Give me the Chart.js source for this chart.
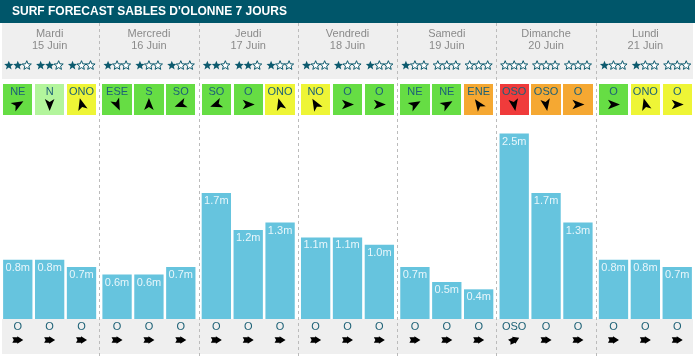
<!DOCTYPE html>
<html>
<head>
<meta charset="utf-8">
<script src="https://cdn.jsdelivr.net/npm/chart.js@4.4.1/dist/chart.umd.min.js"></script>
<style>
html,body{margin:0;padding:0;background:#fff;}
canvas{display:block;}
</style>
</head>
<body>
<canvas id="c" width="695" height="356"></canvas>
<script>
// ---- data ----
const title = "SURF FORECAST SABLES D'OLONNE 7 JOURS";
const days = ['Mardi','Mercredi','Jeudi','Vendredi','Samedi','Dimanche','Lundi'];
const dates = ['15 Juin','16 Juin','17 Juin','18 Juin','19 Juin','20 Juin','21 Juin'];

const waveMatin = [0.8, 0.6, 1.7, 1.1, 0.7, 2.5, 0.8];
const waveMidi  = [0.8, 0.6, 1.2, 1.1, 0.5, 1.7, 0.8];
const waveSoir  = [0.7, 0.7, 1.3, 1.0, 0.4, 1.3, 0.7];

const starsMatin = [2, 1, 2, 1, 1, 0, 1];
const starsMidi  = [2, 1, 2, 1, 0, 0, 1];
const starsSoir  = [1, 1, 1, 1, 0, 0, 0];

const windDirMatin = ['NE','ESE','SO','NO','NE','OSO','O'];
const windDirMidi  = ['N','S','O','O','NE','OSO','ONO'];
const windDirSoir  = ['ONO','SO','ONO','O','ENE','O','O'];

// wind strength level 1..5
const windLevelMatin = [2, 2, 2, 3, 2, 5, 2];
const windLevelMidi  = [1, 2, 2, 2, 2, 4, 3];
const windLevelSoir  = [3, 2, 3, 2, 4, 4, 3];

// arrow heading in degrees (0 = pointing right, 90 = down)
const windAngleMatin = [-30, 65, 160, -120, -30, 80, 0];
const windAngleMidi  = [90, -90, 0, 0, -30, 80, -105];
const windAngleSoir  = [-105, 160, -105, 0, -125, 0, 0];

const swellDirMatin = ['O','O','O','O','O','OSO','O'];
const swellDirMidi  = ['O','O','O','O','O','O','O'];
const swellDirSoir  = ['O','O','O','O','O','O','O'];
const swellAngleMatin = [0, 0, 0, 0, 0, -25, 0];
const swellAngleMidi  = [0, 0, 0, 0, 0, 0, 0];
const swellAngleSoir  = [0, 0, 0, 0, 0, 0, 0];

// ---- styles ----
const levelColors = {1:'#b3f59c', 2:'#66dd44', 3:'#eef536', 4:'#f5a832', 5:'#f03b3b'};
const FONT = '"Liberation Sans", Arial, Helvetica, sans-serif';
const TEAL = '#0d5a6e';
const TXT = '#1d6176';

const stars = [starsMatin, starsMidi, starsSoir];
const windDir = [windDirMatin, windDirMidi, windDirSoir];
const windLevel = [windLevelMatin, windLevelMidi, windLevelSoir];
const windAngle = [windAngleMatin, windAngleMidi, windAngleSoir];
const swellDir = [swellDirMatin, swellDirMidi, swellDirSoir];
const swellAngle = [swellAngleMatin, swellAngleMidi, swellAngleSoir];

function starPath(ctx, cx, cy, R, r){
  ctx.beginPath();
  for(let i=0;i<10;i++){
    const rad = (i%2===0)?R:r;
    const a = -Math.PI/2 + i*Math.PI/5;
    const x = cx + rad*Math.cos(a), y = cy + rad*Math.sin(a);
    if(i===0) ctx.moveTo(x,y); else ctx.lineTo(x,y);
  }
  ctx.closePath();
}
function windArrow(ctx, cx, cy, deg){
  ctx.save();
  ctx.translate(cx, cy);
  ctx.rotate(deg*Math.PI/180);
  ctx.beginPath();
  ctx.moveTo(6.5,0);
  ctx.lineTo(-5.5,-4.8);
  ctx.lineTo(-2.5,0);
  ctx.lineTo(-5.5,4.8);
  ctx.closePath();
  ctx.fillStyle = '#000';
  ctx.fill();
  ctx.restore();
}
function swellArrow(ctx, cx, cy, deg){
  ctx.save();
  ctx.translate(cx, cy);
  ctx.rotate(deg*Math.PI/180);
  ctx.fillStyle = '#000';
  ctx.beginPath();
  ctx.moveTo(-5.5,-2.8);
  ctx.lineTo(-0.5,-2.8);
  ctx.lineTo(-0.5,-3.8);
  ctx.lineTo(5.5,0);
  ctx.lineTo(-0.5,3.8);
  ctx.lineTo(-0.5,2.8);
  ctx.lineTo(-5.5,2.8);
  ctx.lineTo(-4,0);
  ctx.closePath();
  ctx.fill();
  ctx.restore();
}

const decor = {
  id:'decor',
  beforeDraw(chart){
    const ctx = chart.ctx, W = chart.width, H = chart.height;
    const xs = chart.scales.x;
    ctx.save();
    ctx.fillStyle = '#fff';
    ctx.fillRect(0,0,W,H);
    // title bar
    ctx.fillStyle = '#00566a';
    ctx.fillRect(0,0,W,23);
    ctx.fillStyle = '#fff';
    ctx.font = 'bold 12px ' + FONT;
    ctx.textBaseline = 'middle';
    ctx.textAlign = 'left';
    ctx.fillText(title, 12, 12);
    // grey bands
    ctx.fillStyle = '#efefef';
    ctx.fillRect(2,23,W-4,56);
    ctx.fillRect(2,319,W-4,35);
    // separators
    ctx.strokeStyle = '#bbbbbb';
    ctx.lineWidth = 1;
    ctx.setLineDash([3,3]);
    for(let i=0;i<days.length-1;i++){
      const x = Math.round((xs.getPixelForTick(i)+xs.getPixelForTick(i+1))/2) + 0.5;
      ctx.beginPath();
      ctx.moveTo(x,23);
      ctx.lineTo(x,H);
      ctx.stroke();
    }
    ctx.restore();
  },
  afterDatasetsDraw(chart){
    const ctx = chart.ctx;
    const xs = chart.scales.x;
    ctx.save();
    ctx.textAlign = 'center';
    ctx.textBaseline = 'middle';
    // day headers
    ctx.fillStyle = '#8a8a8a';
    ctx.font = '11px ' + FONT;
    days.forEach((d,i)=>{
      const cx = xs.getPixelForTick(i);
      ctx.fillText(d, cx, 34);
      ctx.fillText(dates[i], cx, 46);
    });
    chart.data.datasets.forEach((ds,di)=>{
      const meta = chart.getDatasetMeta(di);
      meta.data.forEach((bar,i)=>{
        const cx = bar.x;
        const half = bar.width/2;
        const left = Math.round(cx-half), right = Math.round(cx+half);
        // value label
        ctx.fillStyle = '#e8f6fb';
        ctx.font = '11px ' + FONT;
        ctx.fillText(ds.data[i].toFixed(1)+'m', cx, bar.y+8);
        // stars
        const n = stars[di][i];
        for(let s=0;s<3;s++){
          const sx = cx + (s-1)*9;
          starPath(ctx, sx, 65.5, 4.8, 2.1);
          if(s<n){ ctx.fillStyle = TEAL; ctx.fill(); }
          else { ctx.fillStyle='#fff'; ctx.fill(); ctx.strokeStyle = TEAL; ctx.lineWidth = 1; ctx.stroke(); }
        }
        // wind box
        ctx.fillStyle = levelColors[windLevel[di][i]];
        ctx.fillRect(left, 84, right-left, 31);
        ctx.fillStyle = TXT;
        ctx.font = '11px ' + FONT;
        ctx.fillText(windDir[di][i], cx, 92);
        windArrow(ctx, cx, 104.5, windAngle[di][i]);
        // swell
        ctx.fillStyle = TXT;
        ctx.fillText(swellDir[di][i], cx, 326.5);
        swellArrow(ctx, cx, 340, swellAngle[di][i]);
      });
    });
    ctx.restore();
  }
};

new Chart(document.getElementById('c'), {
  type:'bar',
  data:{
    labels: days,
    datasets:[
      {label:'Matin', data: waveMatin, backgroundColor:'#66c4de'},
      {label:'Midi', data: waveMidi, backgroundColor:'#66c4de'},
      {label:'Soir', data: waveSoir, backgroundColor:'#66c4de'}
    ]
  },
  options:{
    responsive:false,
    animation:false,
    events:[],
    layout:{padding:{left:-2, right:-1, top:0, bottom:37}},
    datasets:{bar:{categoryPercentage:0.963, barPercentage:0.92}},
    plugins:{legend:{display:false}, tooltip:{enabled:false}, title:{display:false}},
    scales:{
      x:{display:false},
      y:{display:false, min:0, max:4.3}
    }
  },
  plugins:[decor]
});
</script>
</body>
</html>
